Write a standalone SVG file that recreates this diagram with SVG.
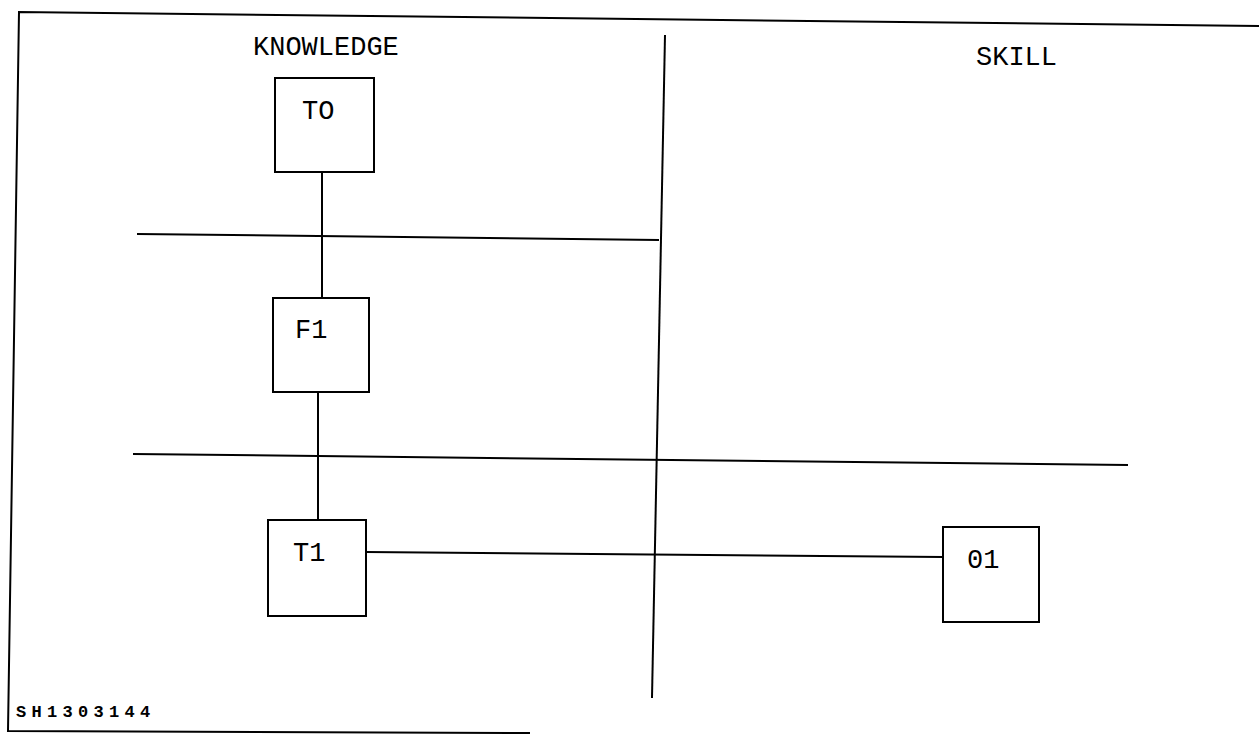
<svg xmlns="http://www.w3.org/2000/svg" width="1259" height="744" viewBox="0 0 1259 744">
<style>
.ln{stroke:#000;stroke-width:2;fill:none}
.bx{stroke:#000;stroke-width:2;fill:#fff}
.t{font-family:"Liberation Mono","DejaVu Sans Mono",monospace;font-size:27px;fill:#000}
.code{font-family:"Liberation Mono","DejaVu Sans Mono",monospace;font-size:17px;font-weight:bold;letter-spacing:5.3px;fill:#000}
</style>
<rect width="1259" height="744" fill="#fff"/>
<g id="frame">
<polyline class="ln" points="1259,26 19,12 8,731 530,733"/>
<line class="ln" x1="665" y1="35" x2="652" y2="698"/>
<line class="ln" x1="137" y1="234" x2="659" y2="240"/>
<line class="ln" x1="133" y1="454" x2="1128" y2="465"/>
</g>
<g id="labels">
<text class="t" x="253" y="55">KNOWLEDGE</text>
<text class="t" x="976" y="65">SKILL</text>
<text class="code" x="16" y="717">SH1303144</text>
</g>
<g id="connectors">
<line class="ln" x1="322" y1="172" x2="322" y2="298"/>
<line class="ln" x1="318" y1="392" x2="318" y2="520"/>
<line class="ln" x1="366" y1="552" x2="943" y2="557"/>
</g>
<g id="TO"><rect class="bx" x="275" y="78" width="99" height="94"/><text class="t" x="302" y="119">TO</text></g>
<g id="F1"><rect class="bx" x="273" y="298" width="96" height="94"/><text class="t" x="295" y="338">F1</text></g>
<g id="T1"><rect class="bx" x="268" y="520" width="98" height="96"/><text class="t" x="293" y="561">T1</text></g>
<g id="O1"><rect class="bx" x="943" y="527" width="96" height="95"/><text class="t" x="967" y="568">01</text></g>
</svg>
